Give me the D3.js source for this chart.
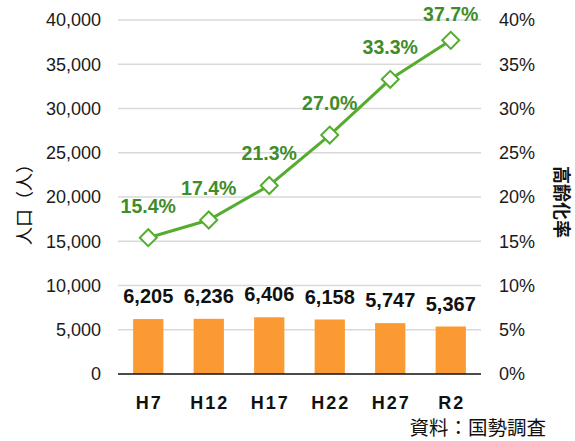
<!DOCTYPE html>
<html>
<head>
<meta charset="utf-8">
<script src="https://cdn.jsdelivr.net/npm/d3@7"></script>
<style>
body { margin: 0; background: #fff; }
text { font-family: "Liberation Sans", Arial, "Noto Sans CJK JP", sans-serif; }
</style>
</head>
<body>
<div id="chart"></div>
<script>
var width = 575,
	height = 441;

// data
var years = ["H7", "H12", "H17", "H22", "H27", "R2"];
var population = [6205, 6236, 6406, 6158, 5747, 5367];
var agingRate = [15.4, 17.4, 21.3, 27.0, 33.3, 37.7];
var popTicks = [0, 5000, 10000, 15000, 20000, 25000, 30000, 35000, 40000];
var rateTicks = [0, 5, 10, 15, 20, 25, 30, 35, 40];

var plot = {left: 118, right: 481, top: 20, bottom: 374};

var svg = d3.select("#chart")
	.append("svg")
		.attr("width", width)
		.attr("height", height)
		.style("background-color", "#fff")

var x = d3.scaleBand()
	.domain(years)
	.range([plot.left, plot.right])
	.padding(0);

var yPop = d3.scaleLinear()
	.domain([0, 40000])
	.range([plot.bottom, plot.top]);

var yRate = d3.scaleLinear()
	.domain([0, 40])
	.range([plot.bottom, plot.top]);

function cx(i){
	return x(years[i]) + x.bandwidth() / 2;
}

// grid lines
svg.selectAll(".grid")
	.data(popTicks.slice(1))
	.enter()
	.append("line")
		.attr("x1", plot.left)
		.attr("x2", plot.right)
		.attr("y1", function(d){ return yPop(d); })
		.attr("y2", function(d){ return yPop(d); })
		.attr("stroke", "#d9d9d9")
		.attr("stroke-width", 1.5)

// left axis
var leftAxis = d3.axisLeft(yPop)
	.tickValues(popTicks)
	.tickSize(0)
	.tickPadding(17)
	.tickFormat(d3.format(","));

var gl = svg.append("g")
	.attr("transform", "translate(" + plot.left + ",0)")
	.call(leftAxis);
gl.select(".domain").remove();
gl.selectAll("text")
	.attr("font-size", 18)
	.attr("fill", "#1a1a1a")
	.style("font-family", "'Liberation Sans', Arial, sans-serif");

// right axis
var rightAxis = d3.axisRight(yRate)
	.tickValues(rateTicks)
	.tickSize(0)
	.tickPadding(18)
	.tickFormat(function(d){ return d + "%"; });

var gr = svg.append("g")
	.attr("transform", "translate(" + plot.right + ",0)")
	.call(rightAxis);
gr.select(".domain").remove();
gr.selectAll("text")
	.attr("font-size", 18)
	.attr("fill", "#1a1a1a")
	.style("font-family", "'Liberation Sans', Arial, sans-serif");

// bars
var barW = x.bandwidth() / 2;
svg.selectAll(".bar")
	.data(population)
	.enter()
	.append("rect")
		.attr("x", function(d, i){ return cx(i) - barW / 2; })
		.attr("y", function(d){ return yPop(d); })
		.attr("width", barW)
		.attr("height", function(d){ return plot.bottom - yPop(d); })
		.attr("fill", "#fb9933")

svg.selectAll(".barLabel")
	.data(population)
	.enter()
	.append("text")
		.attr("x", function(d, i){ return cx(i); })
		.attr("y", function(d){ return yPop(d) - 16; })
		.attr("text-anchor", "middle")
		.attr("font-size", 20)
		.attr("font-weight", "bold")
		.attr("fill", "#111")
		.text(function(d){ return d3.format(",")(d); })

// zero line
svg.append("line")
	.attr("x1", plot.left)
	.attr("x2", plot.right)
	.attr("y1", yPop(0))
	.attr("y2", yPop(0))
	.attr("stroke", "#111")
	.attr("stroke-width", 1.5)

// x labels
svg.selectAll(".xLabel")
	.data(years)
	.enter()
	.append("text")
		.attr("x", function(d, i){ return cx(i) + 1; })
		.attr("y", 409)
		.attr("text-anchor", "middle")
		.attr("font-size", 18)
		.attr("font-weight", "bold")
		.attr("letter-spacing", 2)
		.attr("fill", "#111")
		.text(function(d){ return d; })

// aging rate line
var line = d3.line()
	.x(function(d, i){ return cx(i); })
	.y(function(d){ return yRate(d); });

svg.append("path")
	.datum(agingRate)
	.attr("d", line)
	.attr("fill", "none")
	.attr("stroke", "#55ad2f")
	.attr("stroke-width", 3)

svg.selectAll(".marker")
	.data(agingRate)
	.enter()
	.append("rect")
		.attr("x", -6)
		.attr("y", -6)
		.attr("width", 12)
		.attr("height", 12)
		.attr("transform", function(d, i){
			return "translate(" + cx(i) + "," + yRate(d) + ") rotate(45)";
		})
		.attr("fill", "#fff")
		.attr("stroke", "#55ad2f")
		.attr("stroke-width", 2)

svg.selectAll(".rateLabel")
	.data(agingRate)
	.enter()
	.append("text")
		.attr("x", function(d, i){ return cx(i); })
		.attr("y", function(d){ return Math.max(yRate(d) - 25, 21); })
		.attr("text-anchor", "middle")
		.attr("font-size", 19.5)
		.attr("font-weight", "bold")
		.attr("fill", "#3f8c2b")
		.text(function(d){ return d.toFixed(1) + "%"; })

// axis titles
svg.append("text")
	.attr("transform", "translate(31,200) rotate(-90)")
	.attr("text-anchor", "middle")
	.attr("font-size", 18)
	.attr("fill", "#111")
	.style("font-family", "'Noto Sans CJK JP', sans-serif")
	.text("人口（人）")

svg.append("text")
	.attr("transform", "translate(555,202) rotate(90)")
	.attr("text-anchor", "middle")
	.attr("font-size", 18)
	.attr("font-weight", "bold")
	.attr("fill", "#111")
	.style("font-family", "'Noto Sans CJK JP', sans-serif")
	.text("高齢化率")

// source
svg.append("text")
	.attr("x", 546)
	.attr("y", 435)
	.attr("text-anchor", "end")
	.attr("font-size", 19.5)
	.attr("fill", "#111")
	.style("font-family", "'Noto Sans CJK JP', sans-serif")
	.text("資料：国勢調査")
</script>
</body>
</html>
